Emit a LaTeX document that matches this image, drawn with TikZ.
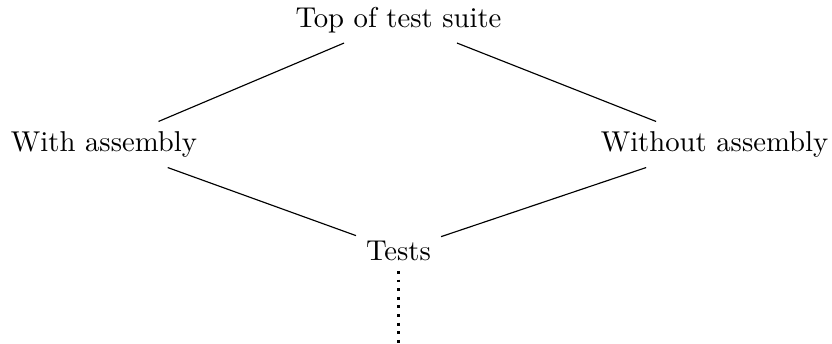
\documentclass[tikz,border=0pt]{standalone}
\usepackage{tikz}
\usetikzlibrary{positioning}
\tikzset{
  suite/.style={font=\normalsize},
  link/.style={line width=0.4pt, black},
  dots/.style={dotted, line width=1pt, black},
}
\begin{document}
\begin{tikzpicture}
  \useasboundingbox (-4.881, 0.245) rectangle (5.309, -3.968);

  % Levels
  \node[suite] (top) at (0, 0) {Top of test suite};
  \node[suite] (with) at (-3.607, -1.525) {With assembly};
  \node[suite] (without) at (3.87, -1.525) {Without assembly};
  \node[suite] (tests) at (0, -2.829) {Tests};
  \coordinate (more) at (0, -3.96);

  \draw[link] (top) -- (with);
  \draw[link] (top) -- (without);
  \draw[link] (with) -- (tests);
  \draw[link] (without) -- (tests);
  \draw[dots] (tests) -- (more);

\end{tikzpicture}
\end{document}
